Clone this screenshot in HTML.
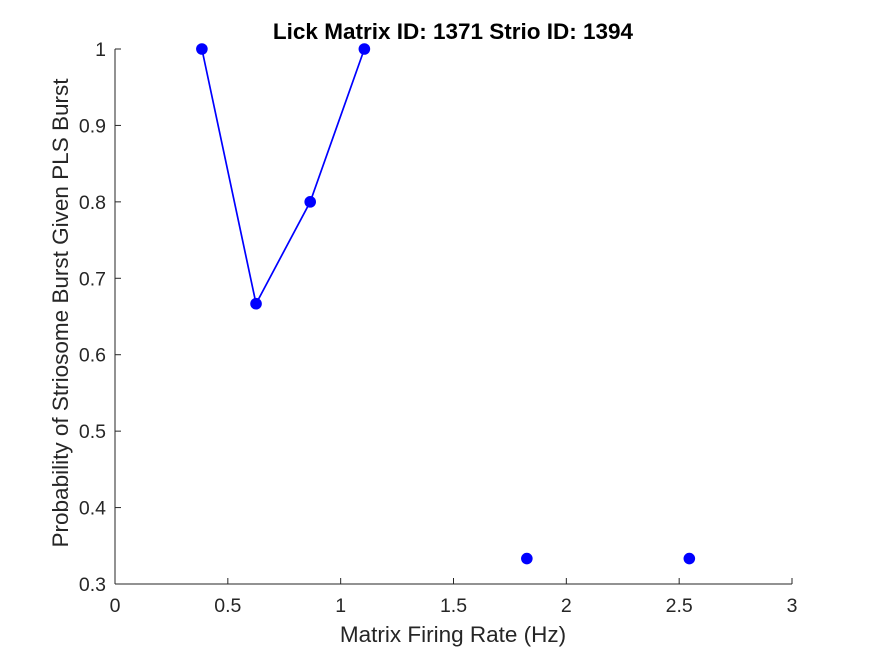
<!DOCTYPE html>
<html>
<head>
<meta charset="utf-8">
<style>
html,body{margin:0;padding:0;background:#fff;}
svg{display:block;font-family:"Liberation Sans",Arial,sans-serif;}
</style>
</head>
<body>
<svg id="chart" width="875" height="656" viewBox="0 0 875 656">
  <rect x="0" y="0" width="875" height="656" fill="#ffffff"/>
  <text x="453" y="39" text-anchor="middle" font-size="22.5" font-weight="bold" fill="#000">Lick Matrix ID: 1371 Strio ID: 1394</text>
  <g id="axes"></g>
  <g id="marks"></g>
  <text x="453" y="642" text-anchor="middle" font-size="22.5" fill="#262626">Matrix Firing Rate (Hz)</text>
  <text transform="translate(68,313) rotate(-90)" text-anchor="middle" font-size="22.5" fill="#262626">Probability of Striosome Burst Given PLS Burst</text>
</svg>
<script>
const xValues = [0.385, 0.625, 0.865, 1.105, 1.825, 2.545];
const yValues = [1, 0.6667, 0.8, 1, 0.3333, 0.3333];
const connected = [true, true, true, true, false, false];
const xTicks = [0, 0.5, 1, 1.5, 2, 2.5, 3];
const xTickLabels = ["0", "0.5", "1", "1.5", "2", "2.5", "3"];
const yTicks = [0.3, 0.4, 0.5, 0.6, 0.7, 0.8, 0.9, 1];
const yTickLabels = ["0.3", "0.4", "0.5", "0.6", "0.7", "0.8", "0.9", "1"];

const L = 115, R = 792, T = 49, B = 584;
const xMin = 0, xMax = 3, yMin = 0.3, yMax = 1;
function sx(v){ return L + (v - xMin) / (xMax - xMin) * (R - L); }
function sy(v){ return B - (v - yMin) / (yMax - yMin) * (B - T); }

const NS = "http://www.w3.org/2000/svg";
const axes = document.getElementById('axes');
const marks = document.getElementById('marks');
function mk(tag, attrs, parent){
  const e = document.createElementNS(NS, tag);
  for (const k in attrs) e.setAttribute(k, attrs[k]);
  parent.appendChild(e);
  return e;
}

const xAxis = mk('line', {x1:L, y1:B, x2:R, y2:B, stroke:'#262626', 'stroke-width':1}, axes);


const yAxis = mk('line', {x1:L, y1:T, x2:L, y2:B, stroke:'#262626', 'stroke-width':1}, axes);



xTicks.forEach((t, i) => {
  const x = sx(t);
  const tk = mk('line', {x1:x, y1:B, x2:x, y2:B-6, stroke:'#262626', 'stroke-width':1}, axes);
  
  
  const lb = mk('text', {x:x, y:B+28, 'text-anchor':'middle', 'font-size':19.5, fill:'#262626'}, axes);
  lb.textContent = xTickLabels[i];
  
  
});
yTicks.forEach((t, i) => {
  const y = sy(t);
  const tk = mk('line', {x1:L, y1:y, x2:L+6, y2:y, stroke:'#262626', 'stroke-width':1}, axes);
  
  
  const lb = mk('text', {x:L-9, y:y+7, 'text-anchor':'end', 'font-size':19.5, fill:'#262626'}, axes);
  lb.textContent = yTickLabels[i];
  
  
});

let d = '';
xValues.forEach((v, i) => {
  if (!connected[i]) return;
  d += (d ? ' L ' : 'M ') + sx(v) + ' ' + sy(yValues[i]);
});
const path = mk('path', {d:d, fill:'none', stroke:'#0000ff', 'stroke-width':1.7}, marks);



xValues.forEach((v, i) => {
  const c = mk('circle', {cx:sx(v), cy:sy(yValues[i]), r:5.8, fill:'#0000ff'}, marks);
  
  
});
</script>
</body>
</html>
